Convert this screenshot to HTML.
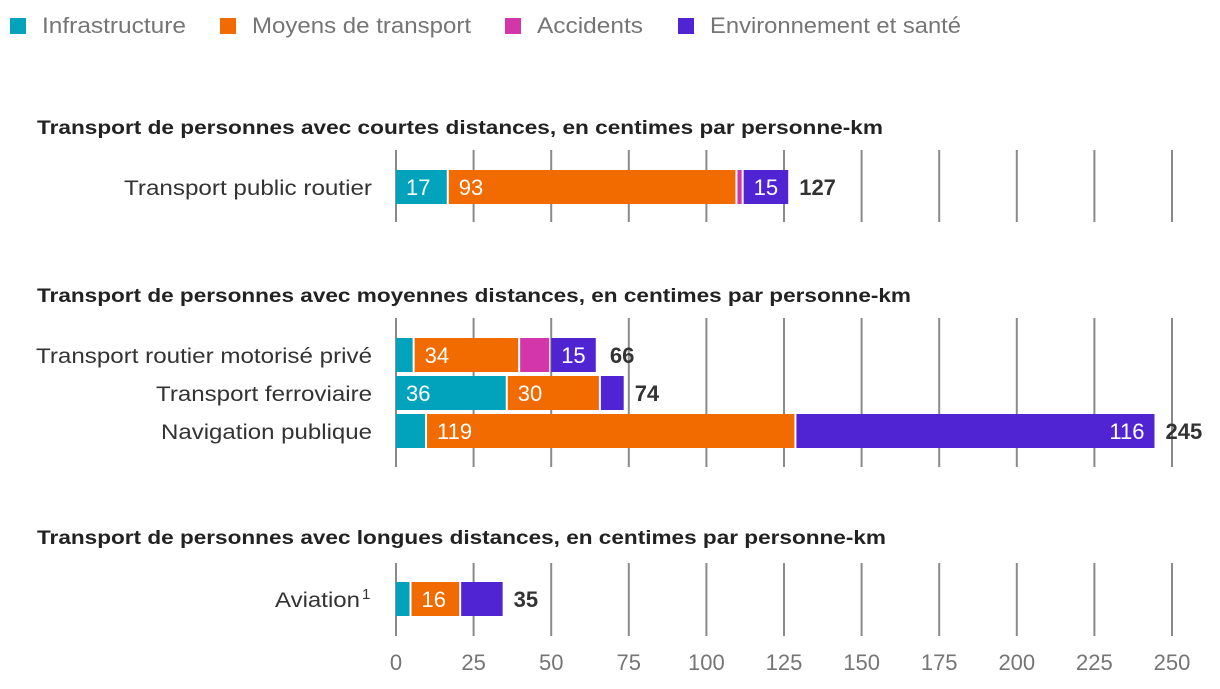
<!DOCTYPE html>
<html><head><meta charset="utf-8"><style>
body{margin:0;background:#fff;width:1220px;height:684px;overflow:hidden;font-family:"Liberation Sans",sans-serif}
</style></head><body>
<svg id="c" width="1220" height="684" xmlns="http://www.w3.org/2000/svg"></svg>
<script>
const seriesNames=["Infrastructure","Moyens de transport","Accidents","Environnement et santé"];
const colors=["#00a3bb","#f26b00","#d336a8","#5024d2"];
const panelTitles=["Transport de personnes avec courtes distances, en centimes par personne-km","Transport de personnes avec moyennes distances, en centimes par personne-km","Transport de personnes avec longues distances, en centimes par personne-km"];
const categories=[["Transport public routier"],["Transport routier motorisé privé","Transport ferroviaire","Navigation publique"],["Aviation"]];
const infra=[[17],[6,36,10],[5]];
const moyens=[[93],[34,30,119],[16]];
const accidents=[[2],[10,0,0],[0]];
const envir=[[15],[15,8,116],[14]];
const totals=[[127],[66,74,245],[35]];
const ticks=[0,25,50,75,100,125,150,175,200,225,250];
const NS="http://www.w3.org/2000/svg",svg=document.getElementById('c');
const x0=396,x1=1172,xs=v=>x0+(x1-x0)*v/250;
function el(t,a,txt){const e=document.createElementNS(NS,t);for(const k in a)e.setAttribute(k,a[k]);if(txt!==undefined)e.textContent=txt;svg.appendChild(e);return e;}
const lx=[10,220,505,678];
const legW=[144,219,106,251];
seriesNames.forEach((n,i)=>{
 const r=el('rect',{x:lx[i],y:18,width:16,height:16,fill:colors[i]});
 
 const t=el('text',{x:lx[i]+32,y:33,'font-size':22,fill:'#757575',textLength:legW[i],lengthAdjust:'spacingAndGlyphs'},n);
 
});
const titleW=[846,874,849];
const labW=[[248],[336,216,211],[86]];
const panels=[{title:134,g0:150,g1:222,row0:170},{title:302,g0:318,g1:467,row0:338},{title:544,g0:563,g1:636,row0:582}];
panels.forEach((p,pi)=>{
 const tt=el('text',{x:37,y:p.title,'font-size':19,'font-weight':'bold',fill:'#222',textLength:titleW[pi],lengthAdjust:'spacingAndGlyphs'},panelTitles[pi]);
 
 ticks.forEach(v=>{const l=el('line',{x1:xs(v),x2:xs(v),y1:p.g0,y2:p.g1,stroke:'#8a8a8a','stroke-width':2});
  });
 categories[pi].forEach((cat,ri)=>{
  const y=p.row0+ri*38,h=34;
  const aviation=(pi==2&&ri==0);
  const lab=el('text',{x:aviation?275:372-labW[pi][ri],y:y+25,'font-size':21,fill:'#333'});
  
  const m=document.createElementNS(NS,'tspan');m.textContent=cat;
  m.setAttribute('textLength',aviation?85:labW[pi][ri]);m.setAttribute('lengthAdjust','spacingAndGlyphs');lab.appendChild(m);
  if(aviation){const s=document.createElementNS(NS,'tspan');s.setAttribute('font-size',15);s.setAttribute('dy',-8);s.setAttribute('dx',2);s.textContent='1';lab.appendChild(s);}
  const vals=[infra[pi][ri],moyens[pi][ri],accidents[pi][ri],envir[pi][ri]];
  let acc=0;
  vals.forEach((v,si)=>{
   if(v<=0)return;
   const a=xs(acc),b=xs(acc+v);acc+=v;
   const r=el('rect',{x:a,y:y,width:Math.max(0,b-a-2),height:h,fill:colors[si]});
   
   if(b-a>46){
    const right=(pi==1&&ri==2&&si==3);
    const t=el('text',{x:right?b-12:a+10,y:y+25,'font-size':22,fill:'#fff','text-anchor':right?'end':'start'},String(v));
    
   }
  });
  const tl=el('text',{x:xs(totals[pi][ri])+9,y:y+25,'font-size':22,'font-weight':'bold',fill:'#333'},String(totals[pi][ri]));
  
 });
});
ticks.forEach(v=>{const t=el('text',{x:xs(v),y:670,'font-size':22,fill:'#757575','text-anchor':'middle'},String(v));
 });
</script>
</body></html>
